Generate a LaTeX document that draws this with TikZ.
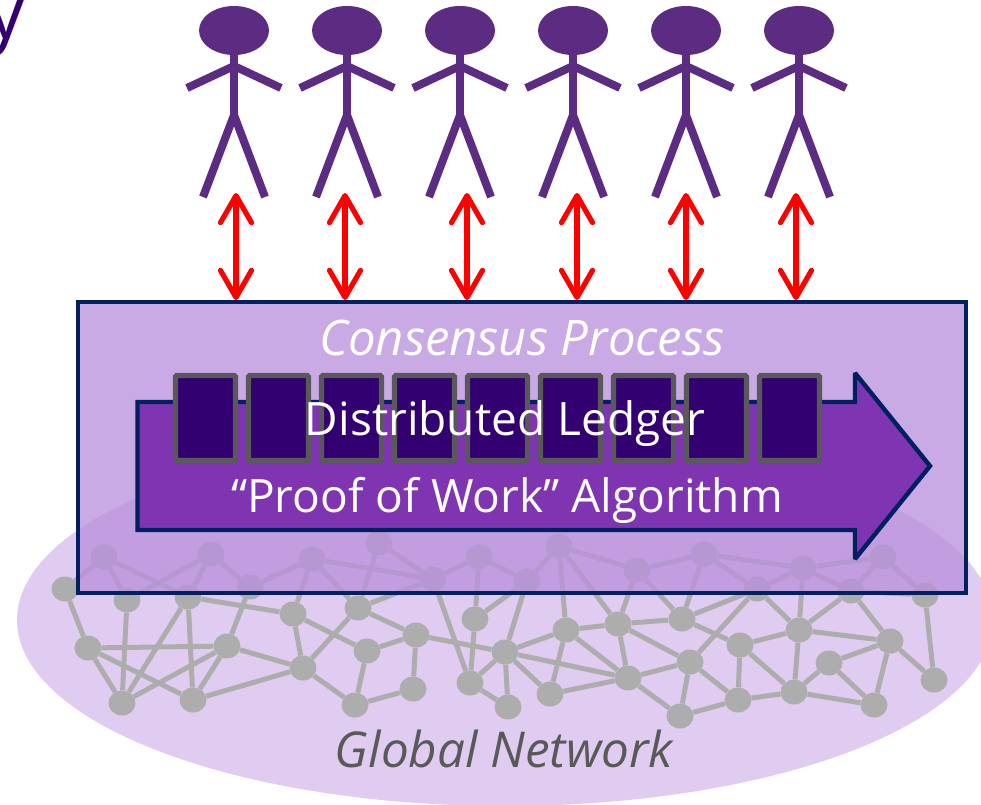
\documentclass[tikz,border=0pt]{standalone}
\usepackage{fontspec}
\setmainfont{Open Sans}
\usetikzlibrary{arrows.meta,shapes.geometric}
\definecolor{stickpurple}{RGB}{92,44,130}
\definecolor{arrowpurple}{RGB}{127,53,178}
\definecolor{blockpurple}{RGB}{51,0,114}
\definecolor{boxpurple}{RGB}{186,146,220}
\definecolor{areapurple}{RGB}{224,204,240}
\definecolor{navyline}{RGB}{0,32,96}
\definecolor{greytext}{RGB}{89,89,89}
\definecolor{netgrey}{RGB}{173,173,173}
\tikzset{
	netarea/.style={ellipse,fill=areapurple,minimum width=976pt,minimum height=372pt,inner sep=0pt},
	netnode/.style={ellipse,fill=netgrey,minimum width=27pt,minimum height=25pt,inner sep=0pt},
	netedge/.style={draw=netgrey,line width=5pt},
	consensusbox/.style={rectangle,draw=navyline,line width=4.4pt,fill=boxpurple,fill opacity=0.78,minimum width=888pt,minimum height=291pt,inner sep=0pt},
	ledgerarrow/.style={draw=navyline,fill=arrowpurple,line width=4.4pt,miter limit=3},
	blockbox/.style={rectangle,rounded corners=1.5pt,draw={rgb,255:red,89;green,89;blue,89},fill=blockpurple,line width=5.4pt,minimum width=60pt,minimum height=85pt,inner sep=0pt},
	head/.style={ellipse,fill=stickpurple,minimum width=70pt,minimum height=49pt,inner sep=0pt},
	limb/.style={draw=stickpurple,line width=8pt},
	updown/.style={draw=red,line width=5.2pt,{Straight Barb[length=27pt,width=31pt,round]}-{Straight Barb[length=27pt,width=31pt,round]}},
	whitetext/.style={text=white,inner sep=0pt,anchor=base}
}
\begin{document}
\begin{tikzpicture}[x=1pt,y=-1pt]
	\useasboundingbox (0,0) rectangle (981,804);
	%Piece of a letter at the corner
	\node [anchor=base,text=blockpurple,inner sep=0pt,font=\fontsize{78}{80}\selectfont] (corner) at (6,38) {y};
	%Area below the network
	\node [netarea] (area) at (505,620) {};
	%Network nodes
	\foreach \name/\x/\y in {a1/65/589,a2/104/557,a3/127/600,a4/211/554,a5/188/597,a6/250/587,
		a7/312/559,a8/293/614,a9/379/543,a10/358/608,a11/433/579,a12/479/557,a13/88/648,
		a14/227/646,a15/122/703,a16/193/700,a17/303/668,a18/367/651,a19/416/635,a20/413/689,
		a21/355/705,a22/475/619,a23/470/683,
		b2/527/581,b3/559/546,b4/637/570,b5/704/554,b6/757/589,b7/803/568,b8/883/557,
		b9/851/591,b10/925/595,b11/566/630,b12/618/624,b13/682/619,b14/505/652,b15/740/645,
		b16/799/630,b17/890/641,b18/829/663,b19/690/662,b20/628/678,b21/550/694,b22/508/707,
		b23/738/700,b24/794/692,b25/874/705,b26/934/680,b27/680/716} {
		\node [netnode] (\name) at (\x,\y) {};
	}
	%Network links
	\foreach \from/\to in {a1/a2,a1/a13,a2/a3,a2/a5,a3/a4,a3/a15,a4/a5,a4/a6,a5/a8,a5/a15,a5/a16,
		a6/a7,a6/a14,a7/a8,a7/a10,a7/a11,a9/a10,a9/a11,a10/a11,a10/a17,a10/a19,a8/a17,a8/a18,
		a13/a14,a13/a15,a13/a16,a14/a15,a14/a16,a14/a17,a16/a17,a17/a21,a18/a19,a18/a21,a19/a20,
		a20/a21,a19/b14,a11/a12,a11/a23,a12/a22,a22/a23,a22/b2,a12/b2,a23/b14,a23/b22,
		b2/b3,b2/b14,b3/b4,b3/b11,b3/b12,b4/b5,b4/b12,b4/b13,b5/b6,b5/b7,b5/b13,b6/b7,b6/b13,
		b6/b16,b6/b19,b7/b8,b7/b9,b7/b16,b8/b9,b8/b10,b9/b10,b9/b16,b9/b17,b10/b26,b11/b12,
		b11/b14,b11/b20,b11/b21,b12/b13,b12/b19,b12/b20,b13/b15,b14/b20,b14/b21,b14/b22,
		b15/b16,b15/b23,b15/b24,b16/b17,b16/b24,b17/b18,b17/b25,b17/b26,b18/b24,b18/b25,
		b19/b20,b19/b23,b19/b27,b20/b21,b20/b27,b23/b24,b23/b27,b24/b25} {
		\draw [netedge] (\from) -- (\to);
	}
	\node [text=greytext,inner sep=0pt,anchor=base,font=\itshape\fontsize{49.4}{56}\selectfont] (networklabel) at (504,767) {Global Network};
	%Box of the process
	\node [consensusbox] (process) at (522,447.5) {};
	\node [whitetext,font=\itshape\fontsize{49}{56}\selectfont] (processlabel) at (522,355) {Consensus Process};
	%The long arrow
	\draw [ledgerarrow] (137.5,402) -- (855,402) -- (855,373) -- (930,466) -- (855,559) -- (855,530) -- (137.5,530) -- cycle;
	%Blocks of the ledger
	\foreach \i in {0,...,8} {
		\node [blockbox] (block\i) at (205.5+73*\i,418) {};
	}
	\node [whitetext,font=\fontsize{46}{52}\selectfont] (ledgerlabel) at (505,435) {Distributed Ledger};
	\node [whitetext,font=\fontsize{46}{52}\selectfont] (powlabel) at (507,512) {“Proof of Work” Algorithm};
	%The people
	\foreach \i/\x in {1/234,2/347,3/460,4/573,5/686,6/799} {
		\node [head] (head\i) at (\x,30.5) {};
		\coordinate (hip\i) at (\x,115);
		\coordinate (shoulder\i) at (\x,66);
		\coordinate (handL\i) at (\x-47,88);
		\coordinate (handR\i) at (\x+47,88);
		\coordinate (footL\i) at (\x-31,197);
		\coordinate (footR\i) at (\x+31,197);
		\draw [limb] (head\i.south) -- (hip\i);
		\draw [limb] (handL\i) -- (shoulder\i) -- (handR\i);
		\draw [limb] (footL\i) -- (hip\i) -- (footR\i);
	}
	%Arrows between the people and the box
	\foreach \i/\x in {1/236,2/345,3/467,4/577,5/686,6/796} {
		\coordinate (up\i) at (\x,193);
		\coordinate (down\i) at (\x,300);
		\draw [updown] (up\i) -- (down\i);
	}
\end{tikzpicture}
\end{document}
